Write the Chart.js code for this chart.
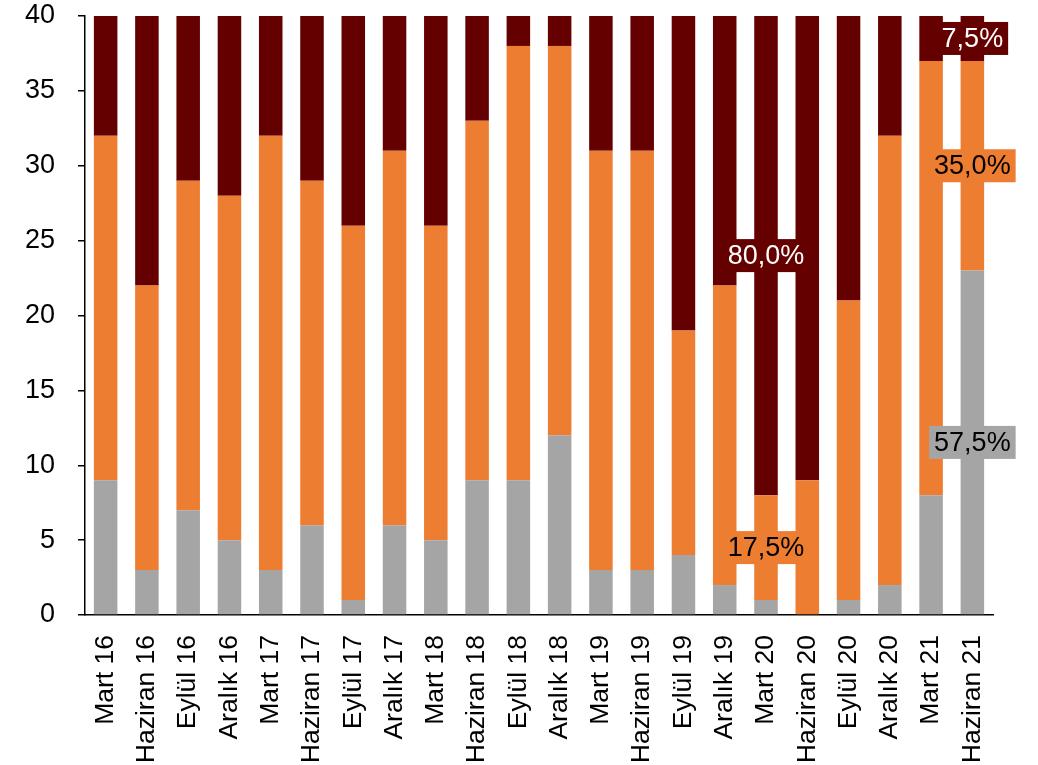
<!DOCTYPE html>
<html>
<head>
<meta charset="utf-8">
<script src="https://cdn.jsdelivr.net/npm/chart.js@4/dist/chart.umd.min.js"></script>
<style>
  html, body { margin: 0; padding: 0; background: #fff; }
  #wrap { width: 1038px; height: 765px; }
</style>
</head>
<body>
<div id="wrap"><canvas id="myChart"></canvas></div>
<script>
const categories = ["Mart 16", "Haziran 16", "Eylül 16", "Aralık 16", "Mart 17", "Haziran 17",
  "Eylül 17", "Aralık 17", "Mart 18", "Haziran 18", "Eylül 18", "Aralık 18", "Mart 19",
  "Haziran 19", "Eylül 19", "Aralık 19", "Mart 20", "Haziran 20", "Eylül 20", "Aralık 20",
  "Mart 21", "Haziran 21"];
const grayValues   = [9, 3, 7, 5, 3, 6, 1, 6, 5, 9, 9, 12, 3, 3, 4, 2, 1, 0, 1, 2, 8, 23];
const orangeValues = [23, 19, 22, 23, 29, 23, 25, 25, 21, 24, 29, 26, 28, 28, 15, 20, 7, 9, 20, 30, 29, 14];
const redValues    = [8, 18, 11, 12, 8, 11, 14, 9, 14, 7, 2, 2, 9, 9, 21, 18, 32, 31, 19, 8, 3, 3];
const yTicks = [0, 5, 10, 15, 20, 25, 30, 35, 40];

// value labels: [dataset index, category index, text]
const pointLabels = [
  [2, 16, "80,0%"],
  [1, 16, "17,5%"],
  [2, 21, "7,5%"],
  [1, 21, "35,0%"],
  [0, 21, "57,5%"]
];

const colors = ["#A5A5A5", "#ED7D31", "#640000"];
const textColors = ["#000", "#000", "#fff"];
const fontName = "'Liberation Sans', Arial, sans-serif";

const boxLabels = {
  id: "boxLabels",
  afterDatasetsDraw(chart) {
    const ctx = chart.ctx;
    ctx.save();
    ctx.font = "27px " + fontName;
    ctx.textAlign = "center";
    ctx.textBaseline = "middle";
    pointLabels.forEach(([ds, idx, txt]) => {
      const bar = chart.getDatasetMeta(ds).data[idx];
      const cx = bar.x;
      const cy = (bar.y + bar.base) / 2;
      const w = ctx.measureText(txt).width + 10;
      const h = 33;
      ctx.fillStyle = colors[ds];
      ctx.fillRect(cx - w / 2, cy - h / 2, w, h);
      ctx.fillStyle = textColors[ds];
      ctx.fillText(txt, cx, cy + 1);
    });
    ctx.restore();
  }
};

function noPad(scale) {
  scale.paddingTop = 0;
  scale.paddingBottom = 0;
  scale.paddingLeft = 0;
  scale.paddingRight = 0;
}

new Chart(document.getElementById("myChart").getContext("2d"), {
  type: "bar",
  data: {
    labels: categories,
    datasets: [
      { data: grayValues, backgroundColor: colors[0] },
      { data: orangeValues, backgroundColor: colors[1] },
      { data: redValues, backgroundColor: colors[2] }
    ]
  },
  options: {
    responsive: true,
    maintainAspectRatio: false,
    animation: false,
    layout: { padding: { top: 16, right: 45, left: 25, bottom: 0 } },
    datasets: { bar: { categoryPercentage: 1, barPercentage: 0.57 } },
    plugins: {
      legend: { display: false },
      tooltip: { enabled: false }
    },
    scales: {
      x: {
        stacked: true,
        afterFit(scale) { noPad(scale); scale.height = 150; },
        grid: { display: false },
        border: { display: true, color: "#000", width: 1.5 },
        ticks: {
          color: "#000",
          font: { family: fontName, size: 26.5 },
          minRotation: 90,
          maxRotation: 90,
          autoSkip: false,
          padding: 12
        }
      },
      y: {
        stacked: true,
        min: 0,
        max: 40,
        afterBuildTicks(axis) { axis.ticks = yTicks.map(v => ({ value: v })); },
        afterFit(scale) { noPad(scale); scale.width = 60; },
        grid: { drawOnChartArea: false, drawTicks: true, tickLength: 7, color: "#000", lineWidth: 1.5 },
        border: { display: true, color: "#000", width: 1.5 },
        ticks: {
          color: "#000",
          font: { family: fontName, size: 27 },
          padding: 23
        }
      }
    }
  },
  plugins: [boxLabels]
});
</script>
</body>
</html>
